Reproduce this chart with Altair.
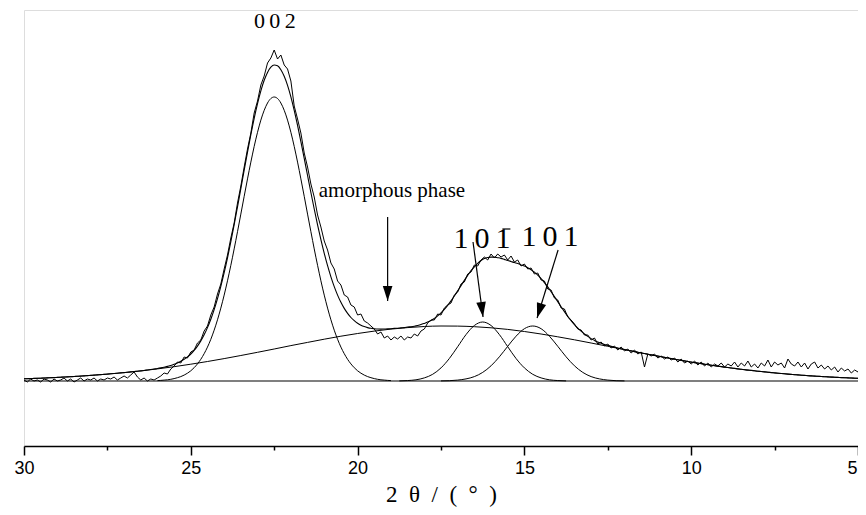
import altair as alt
import pandas as pd
import numpy as np

# ---------------- data ----------------
# observed XRD intensity, 2theta from 30.0 down to 5.0 in 0.1 steps
observed = [
    1, -1, 2, 0, 1, -1, 2, 1, -1, 2, 0, 1, 3, 0, 2, -1, 1, 3, 0, 2,
    1, 3, 0, 2, 1, 3, 2, 4, 1, 3, 5, 3, 6, 9, 4, 1, 3, 0, 2, 1, 3,
    5, 8, 7, 12, 15, 19, 18, 24, 23, 29, 31, 38, 41, 50, 55, 66, 74, 87, 97, 112,
    126, 143, 158, 178, 195, 214, 232, 248, 268, 280, 296, 305, 318, 323, 331,
    322, 326, 316, 312, 300, 275, 262, 248, 228, 214, 197, 184, 166, 154, 140,
    131, 118, 112, 100, 96, 86, 84, 76, 74, 66,
    67, 60, 58, 55, 52, 47, 49, 43, 45, 41, 44, 42, 45, 41, 44, 43, 47, 45, 50, 52,
    58, 61, 61, 67, 66, 73, 76, 78, 86, 89, 97, 99, 107, 109, 116, 115, 121, 124, 121, 127,
    123, 127, 124, 126, 121, 125, 119, 121, 115, 117,
    112, 113, 107, 108, 101, 100, 92, 91, 83, 81, 73, 72, 64, 61, 57, 52, 51, 46, 46, 41,
    43, 37, 39, 35, 37, 33, 35, 31, 34, 30,
    32, 28, 31, 27, 29, 14, 27, 25, 27, 23, 25, 22, 24, 21, 23, 19, 22, 18, 20, 17,
    20, 16, 19, 15, 18, 14, 17, 15, 18, 14, 17, 15, 19, 14, 18, 15, 20, 14, 17, 13,
    18, 15, 21, 14, 19, 16, 18, 13, 22, 17, 15, 19, 14, 18, 12, 17, 19, 13, 16, 12,
    15, 11, 14, 9, 13, 10, 12, 8, 11, 9,
]

# cumulative fitted curve, same grid
fit_total = [
    2.2, 2.3, 2.4, 2.6, 2.7, 2.8, 3.0, 3.1, 3.3, 3.4, 3.6, 3.8, 4.0, 4.1, 4.3, 4.5,
    4.7, 4.9, 5.1, 5.4, 5.6, 5.9, 6.1, 6.4, 6.6, 6.9, 7.2, 7.5, 7.8, 8.1, 8.4, 8.7,
    9.1, 9.4, 9.8, 10.1, 10.5, 11.0, 11.5, 12.0, 12.5,
    13.1, 13.8, 14.6, 15.5, 16.7, 18.1, 19.7, 21.7, 24.1, 27.0, 30.6, 34.9, 40.1, 46.2, 53.4,
    61.8, 71.4, 82.4, 94.7, 108.3, 123.2, 139.3, 156.3, 174.2, 192.4, 210.8, 228.9, 246.3,
    262.7, 277.4, 290.2, 300.7, 308.6, 313.8, 316.0, 315.2, 311.3, 304.7, 295.6, 284.1,
    270.6, 255.6, 239.4, 222.6, 205.5, 188.5, 172.0, 156.2, 141.4, 127.7, 115.3, 104.2,
    94.4, 85.9, 78.7, 72.6, 67.6, 63.5, 60.3, 57.7,
    55.8, 54.4, 53.4, 52.7, 52.3, 52.0, 51.9, 52.0, 52.1, 52.3, 52.6, 52.8, 53.1, 53.4,
    53.9, 54.3, 54.8, 55.5, 56.4, 57.6, 58.9, 60.5, 62.6, 65.2, 68.2, 71.7, 75.7, 80.1,
    85.0, 90.1, 95.4, 100.6, 105.6, 110.3, 114.2, 117.7, 120.5, 122.5, 123.5, 123.9,
    123.9, 123.3, 122.6, 121.6, 120.6, 119.5, 118.4, 117.4, 116.1, 114.9,
    113.2, 111.3, 108.8, 105.8, 102.4, 98.4, 94.1, 89.3, 84.4, 79.4, 74.3, 69.4, 64.7,
    60.4, 56.4, 52.9, 49.8, 47.0, 44.6, 42.4, 40.6, 39.0, 37.7, 36.5, 35.6, 34.6, 33.8,
    33.0, 32.3, 31.5,
    30.8, 30.1, 29.4, 28.8, 28.1, 27.5, 26.8, 26.2, 25.5, 24.9, 24.3, 23.6, 23.0, 22.4,
    21.8, 21.2, 20.6, 20.1, 19.5, 18.9, 18.4, 17.9, 17.4, 16.8, 16.3, 15.8, 15.3, 14.8,
    14.4, 13.9, 13.5, 13.0, 12.6, 12.1, 11.7, 11.3, 10.9, 10.6, 10.2, 9.8, 9.5, 9.1,
    8.8, 8.4, 8.1, 7.8, 7.5, 7.2, 6.9, 6.6, 6.3, 6.1, 5.8, 5.6, 5.3, 5.1, 4.9, 4.7, 4.5,
    4.3, 4.1, 3.9, 3.8, 3.6, 3.4, 3.3, 3.1, 3.0, 2.8, 2.7,
]

# amorphous phase component, 30 -> 5 in 0.5 steps
amorph_y = [
    2.2, 2.8, 3.6, 4.5, 5.6, 6.9, 8.4, 10.1, 12.1, 14.3, 16.8, 19.5, 22.4, 25.5, 28.7,
    32.0, 35.4, 38.6, 41.8, 44.8, 47.5, 49.9, 51.9, 53.4, 54.5, 55.0, 54.9, 54.3, 53.2,
    51.6, 49.5, 47.0, 44.2, 41.2, 38.0, 34.7, 31.4, 28.1, 24.9, 21.8, 18.9, 16.3, 13.9,
    11.7, 9.8, 8.1, 6.6, 5.3, 4.3, 3.4, 2.7,
]

# (002) peak, 26.0 -> 19.0 in 0.1 steps
p002_y = [
    0.4, 0.6, 0.9, 1.2, 1.7, 2.4, 3.3, 4.4, 5.9, 7.8, 10.2, 13.3, 17.1, 21.7, 27.3, 33.9,
    41.7, 50.8, 61.2, 72.9, 85.9, 100.2, 115.7, 132.1, 149.3, 166.9, 184.7, 202.1, 218.9,
    234.6, 248.7, 260.9, 270.7, 278.0, 282.5, 284.0, 282.5, 278.0, 270.7, 260.9, 248.7,
    234.6, 218.9, 202.1, 184.7, 166.9, 149.3, 132.1, 115.7, 100.2, 85.9, 72.9, 61.2, 50.8,
    41.7, 33.9, 27.3, 21.7, 17.1, 13.3, 10.2, 7.8, 5.9, 4.4, 3.3, 2.4, 1.7, 1.2, 0.9, 0.6, 0.4,
]

# (10-1) peak, 18.75 -> 13.75 in 0.25 steps
p10m1_y = [0.1, 0.45, 1.2, 3.1, 6.7, 13.1, 22.5, 34.3, 46.4, 55.5, 59.0, 55.5, 46.4,
           34.3, 22.5, 13.1, 6.7, 3.1, 1.2, 0.45, 0.1]

# (101) peak, 17.5 -> 12.0 in 0.25 steps
p101_y = [0.1, 0.3, 0.9, 2.1, 4.4, 8.6, 15.2, 24.2, 34.7, 44.8, 52.3, 55.0, 52.3, 44.8,
          34.7, 24.2, 15.2, 8.6, 4.4, 2.1, 0.9, 0.3, 0.1]

# annotations
TS = "\u2009"
ann_text = ["0" + TS + "0" + TS + "2", "amorphous phase",
            "1" + TS + "0" + TS + "1", "1" + TS + "0" + TS + "1"]
ann_t = [22.48, 18.97, 16.27, 14.23]
ann_i = [353, 184, 133, 135]
ann_size = [22, 21, 30, 30]

# overbar of the (10-1) label
bar_t = [15.66]
bar_t2 = [15.42]
bar_i = [152]

arrow_t0 = [19.10, 16.54, 13.99]
arrow_i0 = [164, 139, 131]
arrow_t1 = [19.10, 16.24, 14.62]
arrow_i1 = [80, 64, 63]
arrow_angle = [0, 352.4, 17.2]

ticks = [30, 27.5, 25, 22.5, 20, 17.5, 15, 12.5, 10, 7.5, 5]

# ---------------- tables ----------------
def grid(a, step, n):
    return np.round(a - step * np.arange(n), 2)

df_obs = pd.DataFrame({"t": grid(30.0, 0.1, len(observed)), "i": observed})
df_fit = pd.DataFrame({"t": grid(30.0, 0.1, len(fit_total)), "i": fit_total})
df_am = pd.DataFrame({"t": grid(30.0, 0.5, len(amorph_y)), "i": amorph_y})
df_002 = pd.DataFrame({"t": grid(26.0, 0.1, len(p002_y)), "i": p002_y})
df_m1 = pd.DataFrame({"t": grid(18.75, 0.25, len(p10m1_y)), "i": p10m1_y})
df_101 = pd.DataFrame({"t": grid(17.5, 0.25, len(p101_y)), "i": p101_y})
df_base = pd.DataFrame({"t": [30.0, 5.0], "i": [0.0, 0.0]})
df_ann = pd.DataFrame({"t": ann_t, "i": ann_i, "txt": ann_text, "fs": ann_size})
df_bar = pd.DataFrame({"t0": bar_t, "t1": bar_t2, "i0": bar_i})
df_arr = pd.DataFrame({"t0": arrow_t0, "i0": arrow_i0, "t1": arrow_t1, "i1": arrow_i1,
                       "ang": arrow_angle})

xscale = alt.Scale(domain=[30, 5], nice=False, zero=False)
yscale = alt.Scale(domain=[-65, 371], nice=False, zero=False)

NB = "\u00a0"
xaxis = alt.Axis(
    values=ticks,
    labelExpr="datum.value % 5 == 0 ? datum.label : ''",
    format="d",
    tickSize={"condition": {"test": "datum.value % 5 != 0", "value": 4}, "value": 9},
    tickColor="black", tickWidth=1.5,
    domainColor="black", domainWidth=1.5,
    labelFont="Liberation Sans", labelFontSize=18, labelColor="black", labelPadding=4,
    labelAlign={"condition": {"test": "datum.value == 5", "value": "right"}, "value": "center"},
    labelOffset={"condition": {"test": "datum.value == 5", "value": -1}, "value": 0},
    labelFlush=False,
    grid=False,
    title="2" + NB * 2 + "θ" + NB * 2 + "/" + NB * 2 + "(" + NB * 2 + "°" + NB * 2 + ")",
    titleFont="Liberation Serif", titleFontSize=23, titleFontWeight="normal",
    titleColor="black", titlePadding=6,
)

X = alt.X("t:Q", scale=xscale, axis=xaxis)
Y = alt.Y("i:Q", scale=yscale, axis=None)


def curve(df, interp="monotone", width=1.0):
    return alt.Chart(df).mark_line(color="black", strokeWidth=width,
                                   interpolate=interp).encode(x=X, y=Y)


base = curve(df_base, "linear", 1.2)
am = curve(df_am)
g002 = curve(df_002)
gm1 = curve(df_m1)
g101 = curve(df_101)
fit = curve(df_fit, "monotone", 1.1)
obs = curve(df_obs, "linear", 1.0)

shafts = alt.Chart(df_arr).mark_rule(color="black", strokeWidth=1.2).encode(
    x=alt.X("t0:Q", scale=xscale, axis=xaxis), y=alt.Y("i0:Q", scale=yscale, axis=None),
    x2="t1:Q", y2="i1:Q")

heads = alt.Chart(df_arr).mark_point(
    shape="M0,0L-0.32,-1L0.32,-1Z", filled=True, color="black", opacity=1, size=900
).encode(x=alt.X("t1:Q", scale=xscale, axis=xaxis),
         y=alt.Y("i1:Q", scale=yscale, axis=None),
         angle=alt.Angle("ang:Q", scale=None))

texts = alt.Chart(df_ann).mark_text(
    font="Liberation Serif", color="black", align="center", baseline="alphabetic"
).encode(x=X, y=Y, text="txt:N", size=alt.Size("fs:Q", scale=None))

bar = alt.Chart(df_bar).mark_rule(color="black", strokeWidth=1.2).encode(
    x=alt.X("t0:Q", scale=xscale, axis=xaxis), x2="t1:Q",
    y=alt.Y("i0:Q", scale=yscale, axis=None))

chart = alt.layer(base, am, g002, gm1, g101, fit, obs, shafts, heads, texts, bar).properties(
    width=834, height=436,
    autosize=alt.AutoSizeParams(type="none"),
    padding={"left": 16, "top": 2, "right": 0, "bottom": 61},
).configure_view(strokeWidth=0).configure(background="white")

chart.save("out.html", embed_options={"renderer": "svg", "actions": False})
